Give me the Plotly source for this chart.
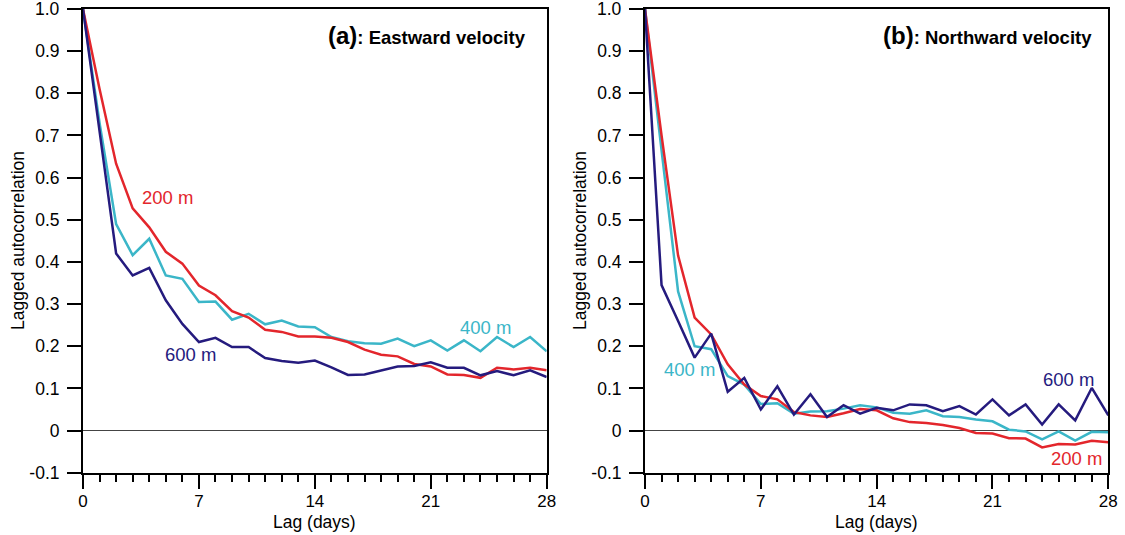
import plotly.graph_objects as go

# Lag in days
lag = list(range(29))

# (a) Eastward velocity: lagged autocorrelation by depth
east_200 = [1.0, 0.81, 0.633, 0.527, 0.482, 0.424, 0.396, 0.344, 0.321, 0.283, 0.268, 0.239, 0.234, 0.223, 0.223,
            0.22, 0.21, 0.192, 0.18, 0.176, 0.158, 0.152, 0.133, 0.132, 0.125, 0.149, 0.145, 0.149, 0.143]
east_400 = [1.0, 0.73, 0.49, 0.416, 0.455, 0.368, 0.36, 0.305, 0.306, 0.263, 0.277, 0.252, 0.261, 0.247, 0.245,
            0.222, 0.212, 0.207, 0.206, 0.218, 0.2, 0.214, 0.19, 0.214, 0.188, 0.222, 0.198, 0.222, 0.188]
east_600 = [1.0, 0.707, 0.42, 0.368, 0.386, 0.309, 0.253, 0.21, 0.22, 0.198, 0.198, 0.172, 0.165, 0.161, 0.166,
            0.15, 0.132, 0.133, 0.143, 0.152, 0.153, 0.162, 0.149, 0.149, 0.131, 0.141, 0.131, 0.143, 0.127]

# (b) Northward velocity: lagged autocorrelation by depth
north_200 = [1.0, 0.70, 0.415, 0.268, 0.228, 0.157, 0.109, 0.082, 0.074, 0.044, 0.036, 0.032, 0.041, 0.051, 0.048,
             0.029, 0.02, 0.018, 0.013, 0.006, -0.006, -0.007, -0.018, -0.019, -0.04, -0.032, -0.033, -0.024, -0.028]
north_400 = [1.0, 0.66, 0.33, 0.20, 0.193, 0.129, 0.109, 0.063, 0.065, 0.04, 0.045, 0.046, 0.052, 0.06, 0.055,
             0.042, 0.04, 0.048, 0.034, 0.032, 0.026, 0.022, 0.002, -0.002, -0.021, -0.002, -0.024, -0.003, -0.004]
north_600 = [1.0, 0.345, 0.26, 0.173, 0.23, 0.092, 0.125, 0.05, 0.105, 0.038, 0.086, 0.032, 0.06, 0.04, 0.054,
             0.048, 0.062, 0.06, 0.046, 0.058, 0.038, 0.074, 0.036, 0.062, 0.014, 0.062, 0.024, 0.101, 0.036]

y_tickvals = [-0.1, 0, 0.1, 0.2, 0.3, 0.4, 0.5, 0.6, 0.7, 0.8, 0.9, 1.0]
y_ticktext = ["-0.1", "0", "0.1", "0.2", "0.3", "0.4", "0.5", "0.6", "0.7", "0.8", "0.9", "1.0"]
x_tickvals = [0, 7, 14, 21, 28]

RED = "#e3262c"
CYAN = "#3bb6c8"
NAVY = "#251b7e"
FONT = "Liberation Sans, Arial, sans-serif"

W, H = 1125, 535
TOP_MARGIN = 5
PH = H - TOP_MARGIN  # plotting height below the top margin
TICKLEN = 14

fig = go.Figure()

series = [
    ("x", "y", east_400, CYAN), ("x", "y", east_200, RED), ("x", "y", east_600, NAVY),
    ("x2", "y2", north_400, CYAN), ("x2", "y2", north_200, RED), ("x2", "y2", north_600, NAVY),
]
for xa, ya, vals, col in series:
    fig.add_trace(go.Scatter(x=lag, y=vals, xaxis=xa, yaxis=ya, mode="lines",
                             line=dict(color=col, width=2.5), showlegend=False,
                             hoverinfo="skip"))

def xaxis_style(domain, anchor):
    return dict(domain=domain, anchor=anchor, range=[0, 28], tickmode="array", tickvals=x_tickvals,
                ticks="outside", ticklen=TICKLEN, tickwidth=2, tickcolor="black",
                minor=dict(tickmode="linear", tick0=0, dtick=1, ticks="outside", ticklen=7,
                           tickwidth=2, tickcolor="black"),
                showline=True, linecolor="black", linewidth=2, mirror=True,
                showgrid=False, zeroline=False, automargin=False, ticklabelstandoff=-2,
                tickfont=dict(family=FONT, size=17, color="black"))

def yaxis_style(domain, anchor):
    return dict(domain=domain, anchor=anchor, range=[-0.1, 1.0], tickmode="array",
                tickvals=y_tickvals, ticktext=y_ticktext,
                ticks="outside", ticklen=TICKLEN, tickwidth=2, tickcolor="black",
                showline=True, linecolor="black", linewidth=2, mirror=True,
                showgrid=False, zeroline=True, zerolinecolor="#444444", zerolinewidth=1,
                ticklabelstandoff=4, automargin=False,
                tickfont=dict(family=FONT, size=17.5, color="black"))

xdom_a = [83 / W, 546.7 / W]
xdom_b = [645 / W, 1108.3 / W]
ydom = [1 - (472.7 - TOP_MARGIN) / PH, 1 - (9 - TOP_MARGIN) / PH]
fig.update_layout(
    width=W, height=H,
    margin=dict(l=0, r=0, t=TOP_MARGIN, b=0),
    paper_bgcolor="white", plot_bgcolor="white",
    xaxis=xaxis_style(xdom_a, "y"),
    yaxis=yaxis_style(ydom, "x"),
    xaxis2=xaxis_style(xdom_b, "y2"),
    yaxis2=yaxis_style(ydom, "x2"),
)

def py(pix):
    """Paper y-coordinate for a pixel row measured from the top."""
    return 1 - (pix - TOP_MARGIN) / PH

# Top y tick mark and label, drawn directly so they stay visible at the page edge
ann = []
lab = dict(family=FONT, size=17.5)
for xref_dom, yr, dom, xpix in [("x domain", "y", xdom_a, 62), ("x2 domain", "y2", xdom_b, 624)]:
    span = (dom[1] - dom[0]) * W
    fig.add_shape(type="line", xref=xref_dom, yref=yr, x0=-TICKLEN / span, x1=0,
                  y0=y_tickvals[-1], y1=y_tickvals[-1], line=dict(color="black", width=2))
    ann.append(dict(x=xpix / W, y=y_tickvals[-1], xref="paper", yref=yr, text=y_ticktext[-1],
                    showarrow=False, font=dict(lab, color="black"), xanchor="right", yanchor="middle"))
# Axis titles
for xc in [(83 + 546.7) / 2, (645 + 1108.3) / 2]:
    ann.append(dict(x=xc / W, y=py(522), xref="paper", yref="paper", text="Lag (days)",
                    showarrow=False, font=dict(lab, color="black"), xanchor="center", yanchor="middle"))
for xc in [18, 580]:
    ann.append(dict(x=xc / W, y=py(241), xref="paper", yref="paper", text="Lagged autocorrelation",
                    textangle=-90, showarrow=False, font=dict(lab, color="black"),
                    xanchor="center", yanchor="middle"))
# Panel titles
ann.append(dict(x=528 / W, y=py(36), xref="paper", yref="paper",
                text="<b><span style='font-size:24px'>(a)</span>: Eastward velocity</b>",
                showarrow=False, font=dict(family=FONT, size=18.5, color="black"),
                xanchor="right", yanchor="middle"))
ann.append(dict(x=1094 / W, y=py(36), xref="paper", yref="paper",
                text="<b><span style='font-size:24px'>(b)</span>: Northward velocity</b>",
                showarrow=False, font=dict(family=FONT, size=18.5, color="black"),
                xanchor="right", yanchor="middle"))
# Depth labels
depth_labels = [
    ("x", "y", 5.1, 0.553, "200 m", RED),
    ("x", "y", 6.5, 0.18, "600 m", NAVY),
    ("x", "y", 24.3, 0.245, "400 m", CYAN),
    ("x2", "y2", 2.7, 0.146, "400 m", CYAN),
    ("x2", "y2", 25.6, 0.122, "600 m", NAVY),
    ("x2", "y2", 26.1, -0.066, "200 m", RED),
]
for xr, yr, xv, yv, t, c in depth_labels:
    ann.append(dict(x=xv, y=yv, xref=xr, yref=yr, text=t, showarrow=False,
                    font=dict(family=FONT, size=18.5, color=c), xanchor="center", yanchor="middle"))

fig.update_layout(annotations=ann)
fig.write_html("out.html")
